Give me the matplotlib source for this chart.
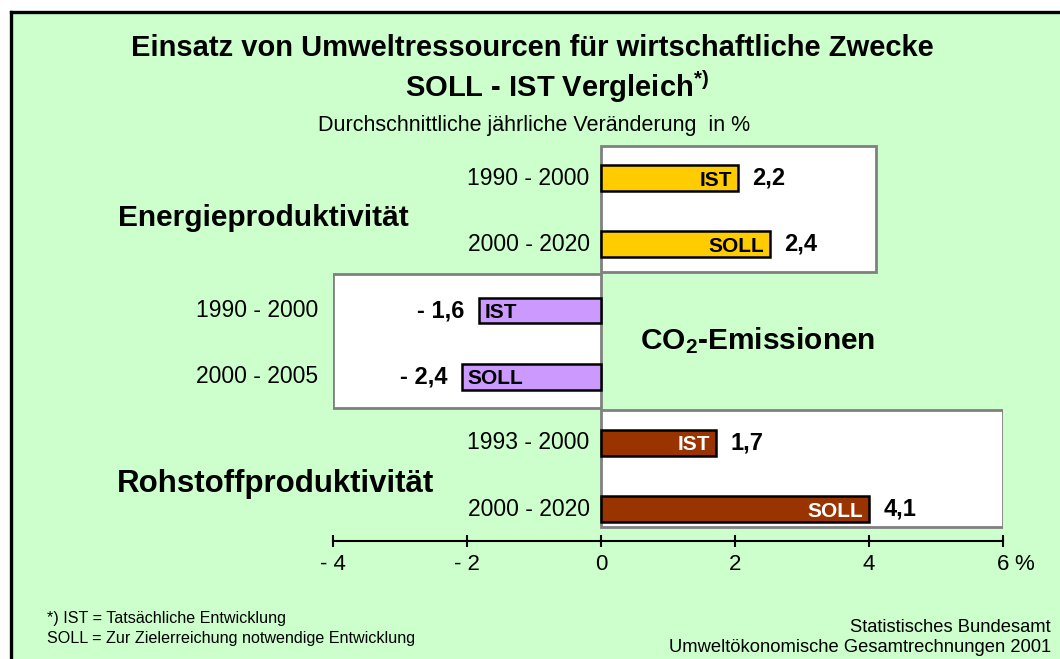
import matplotlib.pyplot as plt
from matplotlib.patches import Rectangle
from matplotlib.lines import Line2D

plt.rcParams['font.family'] = ['Liberation Sans', 'DejaVu Sans']
plt.rcParams['mathtext.fontset'] = 'custom'
plt.rcParams['mathtext.bf'] = 'Liberation Sans:bold'
plt.rcParams['mathtext.rm'] = 'Liberation Sans'
plt.rcParams['mathtext.default'] = 'bf'

# data
groups = ["Energieproduktivität", "CO$_2$-Emissionen", "Rohstoffproduktivität"]
periods = ["1990 - 2000", "2000 - 2020", "1990 - 2000", "2000 - 2005", "1993 - 2000", "2000 - 2020"]
kinds = ["IST", "SOLL", "IST", "SOLL", "IST", "SOLL"]
bar_len = [2.04, 2.52, -1.82, -2.07, 1.71, 4.0]   # drawn lengths
value_labels = ["2,2", "2,4", "- 1,6", "- 2,4", "1,7", "4,1"]
bar_colors = ["#FFCC00", "#FFCC00", "#CC99FF", "#CC99FF", "#993300", "#993300"]
text_colors = ["black", "black", "black", "black", "white", "white"]
xticks = [-4, -2, 0, 2, 4, 6]
xtick_labels = ["- 4", "- 2", "0", "2", "4", "6"]

W, H = 1060, 659
fig = plt.figure(figsize=(W / 100, H / 100), dpi=100)
fig.patch.set_facecolor("white")

def fx(px):
    return px / W

def fy(py):
    return 1 - py / H

# green background + black frame (open at right / bottom)
fig.add_artist(Rectangle((fx(11), 0), 1, fy(12), transform=fig.transFigure,
                         facecolor="#CCFFCC", edgecolor="none", zorder=-10))
fig.add_artist(Line2D([fx(11), 1], [fy(12), fy(12)], color="black", lw=2.4))
fig.add_artist(Line2D([fx(11), fx(11)], [0, fy(12)], color="black", lw=2.4))

# axes placed in pixels: x -4..6 from 333 to 1003, y rows from 178 step 66.2
ax = fig.add_axes([fx(333), fy(541), (1003 - 333) / W, (541 - 141.6) / H])
ax.set_facecolor("none")
ax.set_xlim(-4, 6)
ax.set_ylim(5.48, -0.55)

# white boxes for the three groups
boxes = [(0, -0.48, 4.1, 1.90), (-4, 1.45, 4, 2.02), (0, 3.50, 6, 1.77)]
for bx, by, bw, bh in boxes:
    ax.add_patch(Rectangle((bx, by), bw, bh, facecolor="white", edgecolor="#808080",
                           lw=2, zorder=1))

pos = list(range(len(bar_len)))
ax.barh(pos, bar_len, height=0.39, color=bar_colors, edgecolor="black", lw=1.8, zorder=3)

for i in pos:
    v = bar_len[i]
    if v > 0:
        ax.text(v - 0.08, i + 0.03, kinds[i], ha="right", va="center", fontsize=15,
                fontweight="bold", color=text_colors[i], zorder=4)
        ax.text(v + 0.22, i, value_labels[i], ha="left", va="center", fontsize=17,
                fontweight="bold", zorder=4)
    else:
        ax.text(v + 0.08, i + 0.03, kinds[i], ha="left", va="center", fontsize=15,
                fontweight="bold", color=text_colors[i], zorder=4)
        ax.text(v - 0.22, i, value_labels[i], ha="right", va="center", fontsize=17,
                fontweight="bold", zorder=4)
    lx = -4.22 if 2 <= i <= 3 else -0.17
    ax.text(lx, i, periods[i], ha="right", va="center", fontsize=16.5, clip_on=False)

for s in ["top", "right", "left"]:
    ax.spines[s].set_visible(False)
ax.spines["bottom"].set_linewidth(1.5)
ax.set_yticks([])
ax.set_xticks(xticks)
ax.set_xticklabels(xtick_labels, fontsize=16)
ax.tick_params(axis="x", direction="inout", length=9, width=1.5, pad=5)
fig.text(fx(1014), fy(565), "%", ha="left", va="center", fontsize=16)

# group names
fig.text(fx(118), fy(218), groups[0], ha="left", va="center", fontsize=21.5, fontweight="bold")
fig.text(fx(758), fy(341), groups[1], ha="center", va="center", fontsize=21.5, fontweight="bold")
fig.text(fx(117), fy(484), groups[2], ha="left", va="center", fontsize=22.5, fontweight="bold")

# titles
fig.text(fx(532), fy(48), "Einsatz von Umweltressourcen für wirtschaftliche Zwecke",
         ha="center", va="center", fontsize=21, fontweight="bold")
fig.text(fx(557), fy(87), "SOLL - IST Vergleich$^{*)}$",
         ha="center", va="center", fontsize=21, fontweight="bold")
fig.text(fx(534), fy(125), "Durchschnittliche jährliche Veränderung  in %",
         ha="center", va="center", fontsize=15.5)

# footnotes
fig.text(fx(47), fy(619), "*) IST = Tatsächliche Entwicklung", ha="left", va="center", fontsize=11.6)
fig.text(fx(47), fy(638), "SOLL = Zur Zielerreichung notwendige Entwicklung", ha="left",
         va="center", fontsize=11.6)
fig.text(fx(1051), fy(627), "Statistisches Bundesamt", ha="right", va="center", fontsize=13.2)
fig.text(fx(1051), fy(647), "Umweltökonomische Gesamtrechnungen 2001", ha="right",
         va="center", fontsize=13.2)

fig.savefig("out.png", dpi=100)
